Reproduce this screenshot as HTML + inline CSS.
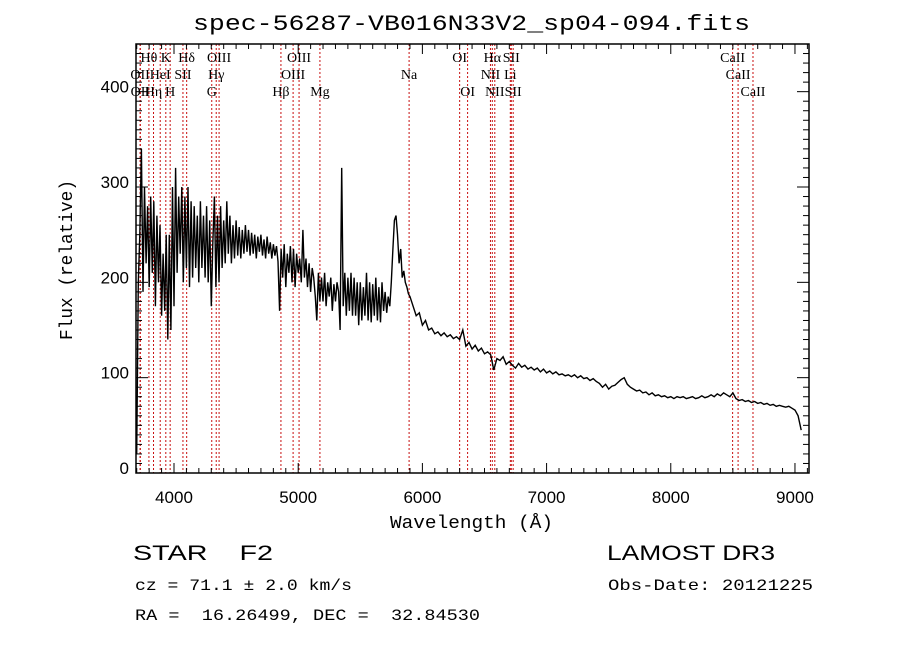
<!DOCTYPE html>
<html><head><meta charset="utf-8"><style>
html,body{margin:0;padding:0;background:#fff;}
svg{display:block;}
text{fill:#000;white-space:pre;}
</style></head><body>
<svg id="chart" width="900" height="649" viewBox="0 0 900 649" xmlns="http://www.w3.org/2000/svg" xml:space="preserve">
<rect x="0" y="0" width="900" height="649" fill="#fff"/>
<text x="193" y="30" font-family="Liberation Mono, monospace" font-size="22" textLength="557" lengthAdjust="spacingAndGlyphs">spec-56287-VB016N33V2_sp04-094.fits</text>
<g id="lines"></g>
<g id="labels"></g>
<g id="spec"></g>
<g id="axes"></g>
<text x="390" y="528" font-family="Liberation Mono, monospace" font-size="18" textLength="163" lengthAdjust="spacingAndGlyphs">Wavelength (Å)</text>
<text transform="translate(72,340) rotate(-90)" x="0" y="0" font-family="Liberation Mono, monospace" font-size="18" textLength="160" lengthAdjust="spacingAndGlyphs">Flux (relative)</text>
<text x="133" y="560" font-family="Liberation Sans, sans-serif" font-size="21" textLength="140" lengthAdjust="spacingAndGlyphs">STAR    F2</text>
<text x="607" y="560" font-family="Liberation Sans, sans-serif" font-size="21" textLength="168" lengthAdjust="spacingAndGlyphs">LAMOST DR3</text>
<text x="135" y="590" font-family="Liberation Mono, monospace" font-size="16" textLength="217" lengthAdjust="spacingAndGlyphs">cz = 71.1 ± 2.0 km/s</text>
<text x="608" y="590" font-family="Liberation Mono, monospace" font-size="16" textLength="205" lengthAdjust="spacingAndGlyphs">Obs-Date: 20121225</text>
<text x="135" y="620" font-family="Liberation Mono, monospace" font-size="16" textLength="345" lengthAdjust="spacingAndGlyphs">RA =  16.26499, DEC =  32.84530</text>
</svg>
<script>
const blueStart = 3700;
const blueStep = 12.5;
const blueFlux = [
20,200,250,340,190,300,220,280,195,290,
210,285,175,270,200,260,165,230,170,250,
140,250,150,300,175,320,210,290,230,300,
200,290,215,300,195,285,205,280,215,270,
200,285,215,270,205,280,200,265,175,240,
290,195,270,200,280,215,265,220,285,230,
270,220,260,225,265,228,258,225,255,230,
260,232,255,228,252,230,250,225,248,232,
250,228,245,225,248,230,242,225,240,228,
238,222,170,235,205,240,195,230,210,238,
200,235,195,230,210,225,200,255,205,225,
195,220,190,215,205,185,160,210,180,205,
180,210,175,200,185,205,170,198,180,200,
190,150,320,175,210,165,205,170,210,165,
205,165,200,155,200,160,195,165,210,160,
200,158,198,165,205,160,195,158,200,170,
190,168,185,175,200,235,265,270,250,220,
235,205,212,200,195,188
];
const redStart = 5900;
const redStep = 25;
const redFlux = [
185,175,
165,168,155,160,150,152,146,148,144,147,
143,145,141,143,140,150,133,137,130,134,
128,131,125,127,124,108,120,118,122,114,
117,113,110,115,111,113,109,111,108,110,
106,109,105,107,104,106,103,104,102,103,
101,103,100,102,99,100,97,99,96,94,
90,93,88,91,92,95,98,100,93,90,
88,86,87,84,85,82,84,81,82,80,
81,79,80,78,80,79,80,78,79,80,
78,79,81,79,80,82,80,83,81,84,
82,80,84,78,76,77,75,76,74,75,
73,74,72,73,71,72,70,71,70,69,
70,68,66,60,45
];
const xTicks = [4000,5000,6000,7000,8000,9000];
const yTicks = [0,100,200,300,400];
const lineWaves = [3727,3729,3798,3835,3889,3934,3969,4072,4102,4304,4340,4363,4861,4959,5007,5175,5893,6300,6364,6548,6563,6583,6708,6716,6731,8498,8542,8662];
const row1Names = ["Hθ","K","Hδ","OIII","OIII","OI","Hα","SII","CaII"];
const row1Waves = [3798,3934,4102,4363,5007,6300,6563,6716,8498];
const row2Names = ["OII","HeI","SII","Hγ","OIII","Na","NII","Li","CaII"];
const row2Waves = [3727,3889,4072,4340,4959,5893,6548,6708,8542];
const row3Names = ["OII","Hη","H","G","Hβ","Mg","OI","NII","SII","CaII"];
const row3Waves = [3729,3835,3969,4304,4861,5175,6364,6583,6731,8662];

const L=136,R=809,T=44,B=473;
const xMin=3694,xMax=9113,yMin=0,yMax=450;
const NS="http://www.w3.org/2000/svg";
function xs(w){return L+(w-xMin)/(xMax-xMin)*(R-L);}
function ys(v){return B-(v-yMin)/(yMax-yMin)*(B-T);}
function mk(tag,attrs,parent){const e=document.createElementNS(NS,tag);for(const k in attrs)e.setAttribute(k,attrs[k]);parent.appendChild(e);return e;}

const gl=document.getElementById('lines');
lineWaves.forEach(w=>{
  const e=mk('line',{x1:xs(w),x2:xs(w),y1:T,y2:B,stroke:'#c81010','stroke-width':1,'stroke-dasharray':'2,2'},gl);
  
  
});
const glab=document.getElementById('labels');
function row(names,waves,y){
  names.forEach((n,i)=>{
    const t=mk('text',{x:xs(waves[i]),y:y,'text-anchor':'middle','font-family':'Liberation Serif, serif','font-size':14},glab);
    t.textContent=n;
    
    
  });
}
row(row1Names,row1Waves,62);
row(row2Names,row2Waves,79);
row(row3Names,row3Waves,96);

const gs=document.getElementById('spec');
const p1=blueFlux.map((f,i)=>xs(blueStart+i*blueStep).toFixed(1)+','+ys(f).toFixed(1));
const p2=redFlux.map((f,i)=>xs(redStart+i*redStep).toFixed(1)+','+ys(f).toFixed(1));
const pl=mk('polyline',{points:p1.concat(p2).join(' '),fill:'none',stroke:'#000','stroke-width':1.4,'stroke-linejoin':'miter'},gs);



const ga=document.getElementById('axes');
const fr=mk('rect',{x:L,y:T,width:R-L,height:B-T,fill:'none',stroke:'#000','stroke-width':1.5},ga);


for(let w=3700;w<=9100;w+=100){
  const major=(w%1000===0);const len=major?10:5;const x=xs(w);
  mk('line',{x1:x,x2:x,y1:B,y2:B-len,stroke:'#000','stroke-width':1},ga);
  mk('line',{x1:x,x2:x,y1:T,y2:T+len,stroke:'#000','stroke-width':1},ga);
}
for(let v=0;v<=450;v+=10){
  const major=(v%100===0);const len=major?12:6;const y=ys(v);
  mk('line',{x1:L,x2:L+len,y1:y,y2:y,stroke:'#000','stroke-width':1},ga);
  mk('line',{x1:R,x2:R-len,y1:y,y2:y,stroke:'#000','stroke-width':1},ga);
}
xTicks.forEach(w=>{
  const t=mk('text',{x:xs(w),y:503,'text-anchor':'middle','font-family':'Liberation Sans, sans-serif','font-size':17},ga);
  t.textContent=w;
  
  
});
yTicks.forEach(v=>{
  const t=mk('text',{x:129,y:ys(v)+1,'text-anchor':'end','font-family':'Liberation Sans, sans-serif','font-size':17},ga);
  t.textContent=v;
  
  
});
</script>
</body></html>
